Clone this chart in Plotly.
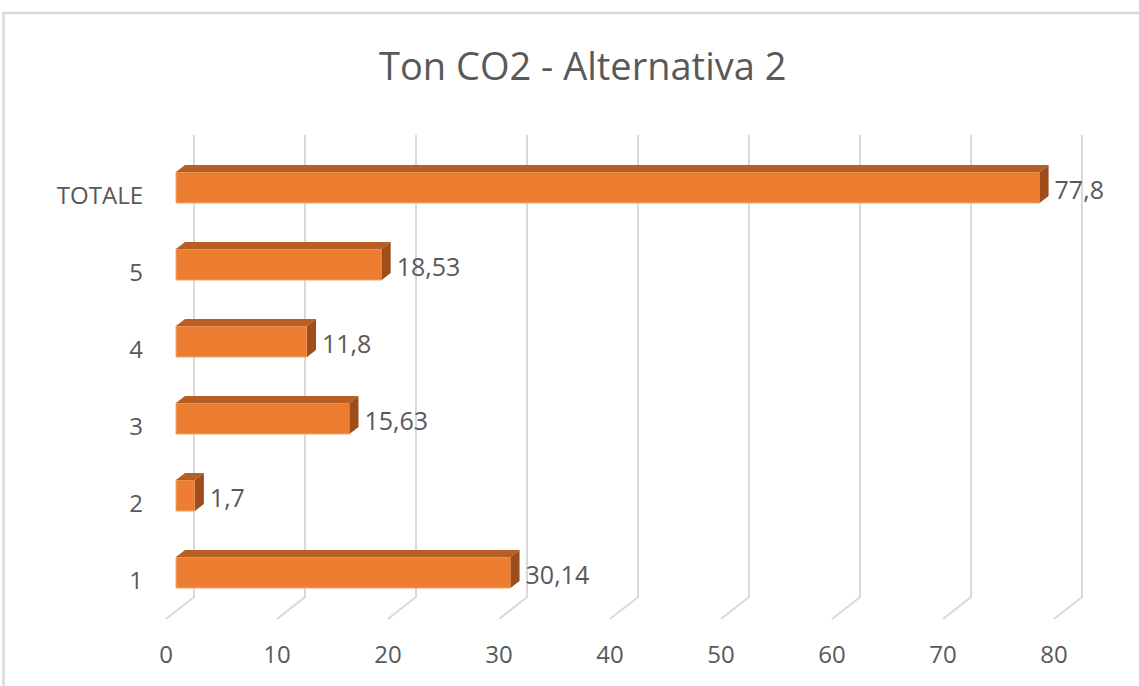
import plotly.graph_objects as go

# ---- data ----
categories = ["1", "2", "3", "4", "5", "TOTALE"]
values = [30.14, 1.7, 15.63, 11.8, 18.53, 77.8]
x_ticks = [0, 10, 20, 30, 40, 50, 60, 70, 80]
title_text = "Ton CO2 - Alternativa 2"

# ---- geometry / style (pixels) ----
W, H = 1139, 686
PX = 11.1          # px per value unit
PY = 77.0          # px per category
LEFT, BOTTOM = 150, 630
FLOOR_X0 = 166     # pixel x of value 0 on front floor edge
FLOOR_Y0 = 580.5   # pixel y of category 0 on front floor plane
BAR_DX, BAR_DY = 10, 8        # front floor -> bar front face
THICK_DX, THICK_DY = 9, 7     # bar depth
DEPTH_DX, DEPTH_DY = 28, 22   # front floor -> back wall
BAR_W = 31 / PY

FRONT = "#ED7D31"
TOP = "#B65E23"
SIDE = "#9D4E1B"
GRID = "#D9D9D9"
TXT = "#595959"
FONT = "Open Sans"

n = len(categories)
pos = list(range(n))

fig = go.Figure()

# gridlines on back wall + floor (front-floor coordinates, axis x/y)
gx, gy = [], []
for t in x_ticks:
    gx += [t, t + DEPTH_DX / PX, t + DEPTH_DX / PX, None]
    gy += [-0.5, -0.5 + DEPTH_DY / PY, (n - 0.5) + DEPTH_DY / PY, None]
fig.add_trace(go.Scatter(x=gx, y=gy, mode="lines", line=dict(color=GRID, width=2),
                         hoverinfo="skip", showlegend=False, xaxis="x", yaxis="y"))

# bars on bar-front-plane coordinates (axis x2/y2)
fig.add_trace(go.Bar(x=values, y=pos, orientation="h", width=BAR_W,
                     marker=dict(color=FRONT, line=dict(color="#F3A46E", width=1)),
                     hoverinfo="skip", showlegend=False, xaxis="x2", yaxis="y2"))

ddx, ddy = THICK_DX / PX, THICK_DY / PY
tx, ty, sx, sy = [], [], [], []
for c, v in zip(pos, values):
    top = c + BAR_W / 2
    bot = c - BAR_W / 2
    tx += [0, v, v + ddx, ddx, 0, None]
    ty += [top, top, top + ddy, top + ddy, top, None]
    sx += [v, v, v + ddx, v + ddx, v, None]
    sy += [bot, top, top + ddy, bot + ddy, bot, None]
fig.add_trace(go.Scatter(x=tx, y=ty, mode="lines", fill="toself", fillcolor=TOP,
                         line=dict(width=0, color=TOP), hoverinfo="skip", showlegend=False,
                         xaxis="x2", yaxis="y2"))
fig.add_trace(go.Scatter(x=sx, y=sy, mode="lines", fill="toself", fillcolor=SIDE,
                         line=dict(width=0, color=SIDE), hoverinfo="skip", showlegend=False,
                         xaxis="x2", yaxis="y2"))

labels = [f"{v:g}".replace(".", ",") for v in values]
fig.add_trace(go.Scatter(x=[v + ddx + 6 / PX for v in values], y=[p - 5 / PY for p in pos],
                         mode="text", text=labels, textposition="middle right",
                         textfont=dict(family=FONT, size=25, color=TXT),
                         hoverinfo="skip", showlegend=False, cliponaxis=False,
                         xaxis="x2", yaxis="y2"))

dom_x = [LEFT / W, 1]
dom_y = [(H - BOTTOM) / H, 1]

fig.update_layout(
    width=W, height=H,
    margin=dict(l=0, r=0, t=0, b=0),
    paper_bgcolor="white", plot_bgcolor="rgba(0,0,0,0)",
    font=dict(family=FONT, color=TXT),
    xaxis=dict(domain=dom_x, anchor="y",
               range=[(LEFT - FLOOR_X0) / PX, (W - FLOOR_X0) / PX],
               tickvals=x_ticks, ticks="", showgrid=False, zeroline=False, showline=False,
               tickfont=dict(family=FONT, size=24, color=TXT), ticklabelstandoff=8),
    yaxis=dict(domain=dom_y, anchor="x",
               range=[(FLOOR_Y0 - BOTTOM) / PY, FLOOR_Y0 / PY],
               tickvals=pos, ticktext=categories, ticks="", showgrid=False,
               zeroline=False, showline=False,
               tickfont=dict(family=FONT, size=24, color=TXT), ticklabelstandoff=6),
    xaxis2=dict(domain=dom_x, anchor="y2", overlaying="x",
                range=[(LEFT - FLOOR_X0 - BAR_DX) / PX, (W - FLOOR_X0 - BAR_DX) / PX],
                visible=False),
    yaxis2=dict(domain=dom_y, anchor="x2", overlaying="y",
                range=[(FLOOR_Y0 - BAR_DY - BOTTOM) / PY, (FLOOR_Y0 - BAR_DY) / PY],
                visible=False),
    annotations=[dict(text=title_text, xref="paper", yref="paper", x=582 / W,
                      y=(H - 65) / H, xanchor="center", yanchor="middle", showarrow=False,
                      font=dict(family=FONT, size=38, color=TXT))],
    shapes=[dict(type="rect", xref="paper", yref="paper", x0=3.5 / W, x1=1.02,
                 y0=-0.02, y1=(H - 13) / H, line=dict(color="#D9D9D9", width=2.5),
                 fillcolor="rgba(0,0,0,0)", layer="below")],
)

fig.write_html("out.html", config={"displayModeBar": False},
               post_script="document.body.style.margin='0';document.body.style.overflow='hidden';")
